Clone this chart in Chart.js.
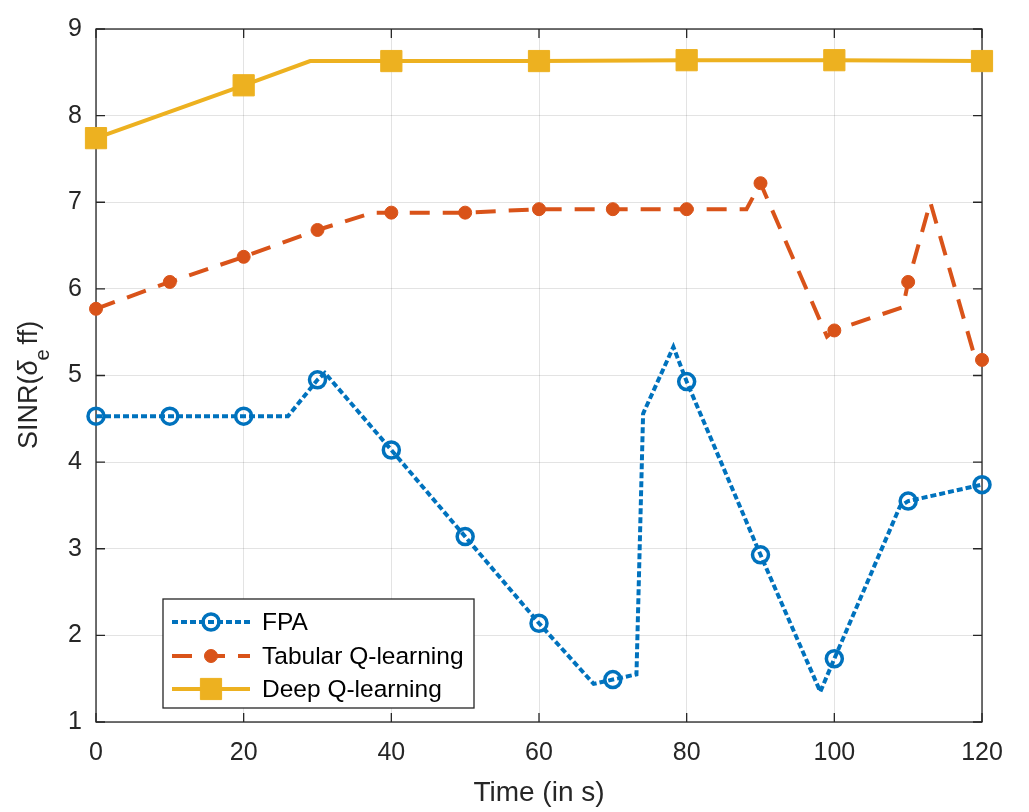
<!DOCTYPE html>
<html>
<head>
<meta charset="utf-8">
<script src="https://cdn.jsdelivr.net/npm/chart.js@4"></script>
<style>
  html, body { margin: 0; padding: 0; background: #fff; }
  canvas { display: block; }
</style>
</head>
<body>
<canvas id="sinrChart" width="1029" height="812"></canvas>
<script>
// series values (time in s, SINR)
const fpaTime = [0, 10, 20, 26, 30, 31, 40, 50, 60, 67.4, 70, 73.2, 74.1, 78.2, 80, 90, 98.1, 100, 108.9, 110, 120];
const fpaSinr = [4.53, 4.53, 4.53, 4.53, 4.95, 5.03, 4.14, 3.14, 2.14, 1.44, 1.49, 1.55, 4.56, 5.33, 4.93, 2.93, 1.35, 1.73, 3.49, 3.55, 3.74];

const tabTime = [0, 10, 20, 30, 37.5, 40, 50, 60, 70, 80, 88.1, 90, 99, 100, 109.3, 110, 113, 118.8, 120];
const tabSinr = [5.77, 6.08, 6.37, 6.68, 6.88, 6.88, 6.88, 6.92, 6.92, 6.92, 6.92, 7.22, 5.45, 5.52, 5.79, 6.08, 7.0, 5.28, 5.18];

const deepTime = [0, 20, 29, 40, 60, 80, 100, 120];
const deepSinr = [7.74, 8.35, 8.63, 8.63, 8.63, 8.64, 8.64, 8.63];

const xTicks = [0, 20, 40, 60, 80, 100, 120];
const yTicks = [1, 2, 3, 4, 5, 6, 7, 8, 9];

const seriesNames = ['FPA', 'Tabular Q-learning', 'Deep Q-learning'];

const FONT = '"Liberation Sans", Arial, Helvetica, sans-serif';
const AXIS_COLOR = '#262626';

const toPoints = (xs, ys) => xs.map((x, i) => ({ x, y: ys[i] }));
// markers only on the sampled instants, intermediate points are line vertices
const markerAt = (step, r) => (ctx) => (ctx.raw && ctx.raw.x % step === 0) ? r : 0;

const datasets = [
    {
        label: seriesNames[0],
        data: toPoints(fpaTime, fpaSinr),
        borderColor: '#0072BD',
        borderWidth: 4,
        borderDash: [6, 3],
        pointStyle: 'circle',
        pointRadius: markerAt(10, 8),
        pointBorderWidth: 3.5,
        pointBorderColor: '#0072BD',
        pointBackgroundColor: 'rgba(255,255,255,0)',
        order: 1
    },
    {
        label: seriesNames[1],
        data: toPoints(tabTime, tabSinr),
        borderColor: '#D95319',
        borderWidth: 4,
        borderDash: [20, 13],
        pointStyle: 'circle',
        pointRadius: markerAt(10, 6.5),
        pointBorderWidth: 1,
        pointBorderColor: '#D95319',
        pointBackgroundColor: '#D95319',
        order: 2
    },
    {
        label: seriesNames[2],
        data: toPoints(deepTime, deepSinr),
        borderColor: '#EDB120',
        borderWidth: 4,
        pointStyle: 'rect',
        pointRadius: markerAt(20, 15),
        pointBorderWidth: 1,
        pointBorderColor: '#EDB120',
        pointBackgroundColor: '#EDB120',
        order: 3
    }
];

// box, inward ticks and axis titles
const axesBox = {
    id: 'axesBox',
    beforeDatasetsDraw(chart) {
        const { ctx, chartArea: a, scales } = chart;
        ctx.save();
        ctx.strokeStyle = AXIS_COLOR;
        ctx.lineWidth = 1.3;
        ctx.strokeRect(a.left, a.top, a.right - a.left, a.bottom - a.top);
        const tl = 9;
        ctx.beginPath();
        xTicks.forEach(v => {
            const px = scales.x.getPixelForValue(v);
            ctx.moveTo(px, a.bottom); ctx.lineTo(px, a.bottom - tl);
            ctx.moveTo(px, a.top); ctx.lineTo(px, a.top + tl);
        });
        yTicks.forEach(v => {
            const py = scales.y.getPixelForValue(v);
            ctx.moveTo(a.left, py); ctx.lineTo(a.left + tl, py);
            ctx.moveTo(a.right, py); ctx.lineTo(a.right - tl, py);
        });
        ctx.stroke();
        ctx.restore();
    },
    afterDraw(chart) {
        const { ctx, chartArea: a } = chart;
        ctx.save();
        ctx.fillStyle = AXIS_COLOR;

        // x title
        ctx.font = '28px ' + FONT;
        ctx.textAlign = 'center';
        ctx.textBaseline = 'middle';
        ctx.fillText('Time (in s)', (a.left + a.right) / 2, 793);

        // y title: SINR(δ_e ff)
        ctx.translate(37, 449);
        ctx.rotate(-Math.PI / 2);
        ctx.textAlign = 'left';
        ctx.textBaseline = 'alphabetic';
        let x = 0;
        ctx.font = '27px ' + FONT;
        ctx.fillText('SINR(', x, 0);
        x += ctx.measureText('SINR(').width;
        ctx.font = 'italic 27px ' + FONT;
        ctx.fillText('δ', x, 0);
        x += ctx.measureText('δ').width;
        ctx.font = '20px ' + FONT;
        ctx.fillText('e', x, 12);
        x += ctx.measureText('e').width + 5;
        ctx.font = '27px ' + FONT;
        ctx.fillText('ff)', x, 0);
        ctx.restore();
    }
};

// legend box inside the axes, lower left
const insetLegend = {
    id: 'insetLegend',
    afterDraw(chart) {
        const { ctx } = chart;
        const box = { left: 163, top: 599, right: 474, bottom: 708 };
        const rows = [622, 656, 689];
        ctx.save();
        ctx.fillStyle = '#fff';
        ctx.fillRect(box.left, box.top, box.right - box.left, box.bottom - box.top);
        ctx.strokeStyle = AXIS_COLOR;
        ctx.lineWidth = 1.3;
        ctx.strokeRect(box.left, box.top, box.right - box.left, box.bottom - box.top);

        chart.data.datasets.forEach((ds, i) => {
            const y = rows[i];
            ctx.save();
            ctx.strokeStyle = ds.borderColor;
            ctx.lineWidth = ds.borderWidth;
            ctx.setLineDash(ds.borderDash || []);
            ctx.beginPath();
            ctx.moveTo(172, y);
            ctx.lineTo(250, y);
            ctx.stroke();
            ctx.restore();

            const meta = chart.getDatasetMeta(i);
            const pt = meta.data.find(p => p.options.radius > 0);
            if (pt) {
                const o = pt.options;
                ctx.save();
                ctx.fillStyle = o.backgroundColor;
                ctx.strokeStyle = o.borderColor;
                ctx.lineWidth = o.borderWidth;
                ctx.beginPath();
                if (o.pointStyle === 'rect') {
                    const s = o.radius * Math.SQRT1_2;
                    ctx.rect(211 - s, y - s, 2 * s, 2 * s);
                } else {
                    ctx.arc(211, y, o.radius, 0, Math.PI * 2);
                }
                ctx.fill();
                ctx.stroke();
                ctx.restore();
            }

            ctx.fillStyle = '#000';
            ctx.font = '24.5px ' + FONT;
            ctx.textAlign = 'left';
            ctx.textBaseline = 'middle';
            ctx.fillText(ds.label, 262, y + 1);
        });
        ctx.restore();
    }
};

new Chart(document.getElementById('sinrChart'), {
    type: 'line',
    data: { datasets },
    options: {
        responsive: false,
        animation: false,
        devicePixelRatio: 1,
        layout: { padding: { top: 20, right: 47, left: 0, bottom: 0 } },
        elements: { line: { tension: 0 } },
        datasets: { line: { clip: false } },
        plugins: {
            legend: { display: false },
            tooltip: { enabled: false }
        },
        scales: {
            x: {
                type: 'linear',
                min: 0,
                max: 120,
                afterBuildTicks: (s) => { s.ticks = xTicks.map(v => ({ value: v })); },
                afterFit: (s) => { s.height = 90; },
                border: { display: false },
                grid: { color: 'rgba(38,38,38,0.13)', lineWidth: 1, drawTicks: false },
                ticks: {
                    color: AXIS_COLOR,
                    padding: 16,
                    maxRotation: 0,
                    font: { family: FONT, size: 25 }
                }
            },
            y: {
                type: 'linear',
                min: 1,
                max: 9,
                afterBuildTicks: (s) => { s.ticks = yTicks.map(v => ({ value: v })); },
                afterFit: (s) => { s.width = 96; },
                border: { display: false },
                grid: { color: 'rgba(38,38,38,0.13)', lineWidth: 1, drawTicks: false },
                ticks: {
                    color: AXIS_COLOR,
                    padding: 14,
                    font: { family: FONT, size: 25 }
                }
            }
        }
    },
    plugins: [axesBox, insetLegend]
});
</script>
</body>
</html>
